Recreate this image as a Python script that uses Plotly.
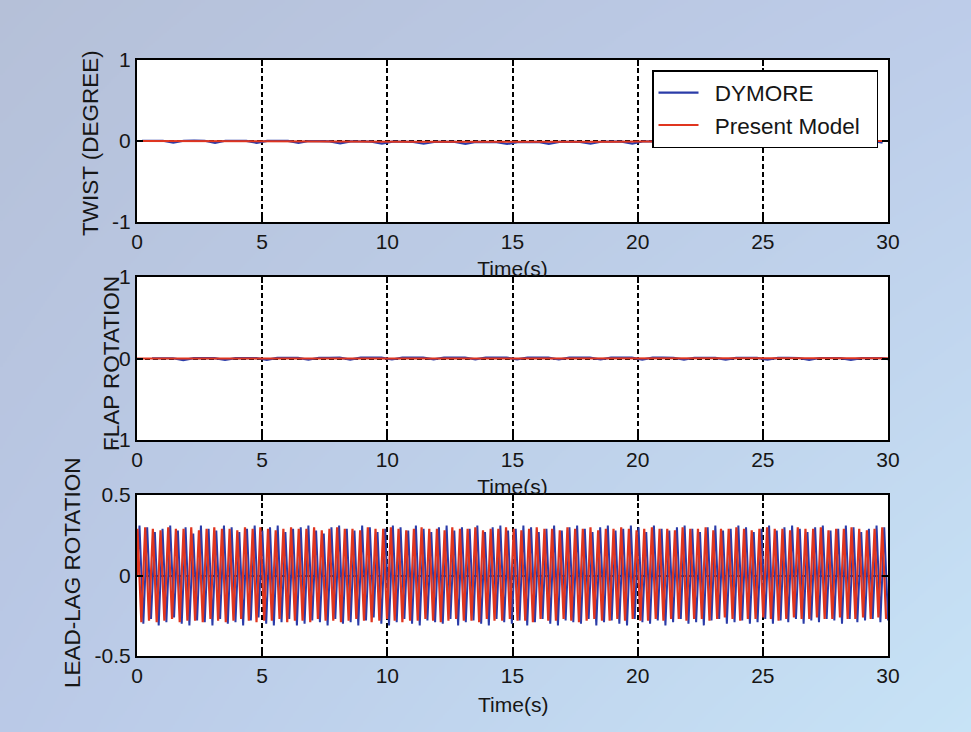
import struct
import zlib
import base64

import numpy as np
import plotly.graph_objects as go

# ---------------------------------------------------------------- data
# Twist response (degree), Present Model sampled every second
twist_red_t = list(range(31))
twist_red = [0.000, 0.000, 0.001, 0.000, 0.000, -0.001, 0.000, 0.000, -0.002, -0.004,
             -0.006, -0.008, -0.010, -0.011, -0.012, -0.013, -0.013, -0.012, -0.011, -0.009,
             -0.007, -0.005, -0.004, -0.003, -0.002, -0.002, -0.001, -0.001, 0.000, 0.000,
             0.000]

# Twist response, DYMORE (sampled every 5/12 s from t = 0.2 s)
twist_blue_t0, twist_blue_dt = 0.2, 5.0 / 12.0
twist_blue = [0.003, 0.004, 0.003, -0.021, 0.003, 0.004, 0.003, -0.022,
              0.003, 0.003, 0.002, -0.022, 0.002, 0.002, 0.001, -0.023,
              0.000, -0.002, -0.004, -0.028, -0.005, -0.006, -0.007, -0.031,
              -0.008, -0.009, -0.010, -0.034, -0.010, -0.011, -0.012, -0.036,
              -0.012, -0.013, -0.013, -0.037, -0.013, -0.013, -0.012, -0.036,
              -0.012, -0.011, -0.010, -0.034, -0.009, -0.008, -0.007, -0.031,
              -0.006, -0.005, -0.004, -0.028, -0.003, -0.003, -0.002, -0.026,
              -0.002, -0.001, -0.001, -0.025, 0.000, 0.000, 0.001, -0.023,
              0.001, 0.001, 0.002, -0.022, 0.002, 0.002, 0.002, -0.022]

# Flap rotation, Present Model sampled every second
flap_red_t = list(range(31))
flap_red = [0.000, 0.000, 0.000, 0.001, 0.001, 0.002, 0.002, 0.003, 0.004, 0.005,
            0.006, 0.007, 0.008, 0.008, 0.009, 0.009, 0.009, 0.009, 0.008, 0.008,
            0.008, 0.007, 0.007, 0.006, 0.006, 0.005, 0.004, 0.004, 0.003, 0.003,
            0.002]

# Flap rotation, DYMORE (sampled every 5/12 s from t = 0.6 s)
flap_blue_t0, flap_blue_dt = 0.6, 5.0 / 12.0
flap_blue = [0.003, 0.004, 0.003, -0.019, 0.004, 0.004, 0.004, -0.018,
             0.005, 0.005, 0.006, -0.017, 0.007, 0.007, 0.008, -0.015,
             0.009, 0.009, 0.010, -0.013, 0.010, 0.011, 0.011, -0.012,
             0.011, 0.012, 0.012, -0.011, 0.012, 0.012, 0.012, -0.011,
             0.012, 0.012, 0.012, -0.011, 0.012, 0.011, 0.011, -0.012,
             0.011, 0.011, 0.011, -0.012, 0.011, 0.010, 0.010, -0.013,
             0.010, 0.010, 0.009, -0.014, 0.009, 0.009, 0.008, -0.014,
             0.008, 0.008, 0.007, -0.015, 0.007, 0.007, 0.006, -0.016,
             0.006, 0.006, 0.005, -0.017, 0.005, 0.005, 0.005, -0.018]

# Lead-lag rotation: successive maxima / minima of each cycle
leadlag_period = 0.3067
red_t0, blue_t0 = 0.02, 0.10
red_hi = [0.29, 0.30, 0.29, 0.28, 0.30, 0.29, 0.29, 0.30, 0.28, 0.29,
          0.30, 0.29, 0.29, 0.28, 0.30, 0.29, 0.30, 0.29, 0.28, 0.29,
          0.30, 0.29, 0.29, 0.30, 0.28, 0.29, 0.30, 0.29, 0.29, 0.28,
          0.30, 0.29, 0.29, 0.30, 0.29, 0.28, 0.29, 0.30, 0.29, 0.29,
          0.28, 0.30, 0.29, 0.29, 0.30, 0.28, 0.29, 0.29, 0.30, 0.29,
          0.28, 0.29, 0.30, 0.29, 0.29, 0.28, 0.30, 0.29, 0.29, 0.30,
          0.28, 0.29, 0.29, 0.30, 0.29, 0.28, 0.29, 0.30, 0.29, 0.29,
          0.28, 0.30, 0.29, 0.29, 0.30, 0.28, 0.29, 0.29, 0.30, 0.29,
          0.28, 0.29, 0.30, 0.29, 0.29, 0.28, 0.30, 0.29, 0.29, 0.30,
          0.28, 0.29, 0.29, 0.30, 0.29, 0.28, 0.29, 0.30]
red_lo = [-0.29, -0.28, -0.29, -0.28, -0.27, -0.29, -0.28, -0.28, -0.29, -0.27,
          -0.28, -0.29, -0.28, -0.27, -0.28, -0.29, -0.28, -0.28, -0.27, -0.29,
          -0.28, -0.28, -0.29, -0.27, -0.28, -0.28, -0.29, -0.28, -0.27, -0.28,
          -0.29, -0.28, -0.27, -0.28, -0.29, -0.28, -0.28, -0.27, -0.28, -0.29,
          -0.28, -0.27, -0.28, -0.28, -0.29, -0.27, -0.28, -0.28, -0.27, -0.28,
          -0.28, -0.29, -0.27, -0.28, -0.28, -0.27, -0.28, -0.29, -0.28, -0.27,
          -0.28, -0.28, -0.27, -0.28, -0.27, -0.28, -0.28, -0.27, -0.28, -0.27,
          -0.27, -0.28, -0.27, -0.27, -0.28, -0.27, -0.26, -0.27, -0.28, -0.27,
          -0.27, -0.26, -0.27, -0.28, -0.27, -0.26, -0.27, -0.27, -0.26, -0.27,
          -0.27, -0.26, -0.27, -0.27, -0.26, -0.27, -0.26, -0.27]
blue_hi = [0.31, 0.30, 0.27, 0.29, 0.31, 0.28, 0.30, 0.26, 0.31, 0.29,
           0.28, 0.31, 0.30, 0.27, 0.29, 0.31, 0.28, 0.30, 0.31, 0.27,
           0.29, 0.30, 0.31, 0.28, 0.26, 0.30, 0.31, 0.29, 0.28, 0.31,
           0.30, 0.27, 0.29, 0.31, 0.30, 0.28, 0.31, 0.29, 0.27, 0.30,
           0.31, 0.28, 0.30, 0.29, 0.31, 0.27, 0.30, 0.31, 0.28, 0.29,
           0.31, 0.30, 0.27, 0.29, 0.31, 0.28, 0.30, 0.31, 0.29, 0.27,
           0.30, 0.31, 0.28, 0.29, 0.31, 0.30, 0.27, 0.31, 0.29, 0.28,
           0.30, 0.31, 0.29, 0.27, 0.30, 0.31, 0.28, 0.29, 0.31, 0.30,
           0.27, 0.29, 0.31, 0.28, 0.30, 0.31, 0.29, 0.27, 0.30, 0.31,
           0.28, 0.29, 0.31, 0.30, 0.27, 0.29, 0.31, 0.30]
blue_lo = [-0.30, -0.27, -0.31, -0.29, -0.26, -0.30, -0.31, -0.28, -0.29, -0.31,
           -0.27, -0.30, -0.29, -0.31, -0.28, -0.26, -0.30, -0.31, -0.29, -0.27,
           -0.31, -0.30, -0.28, -0.29, -0.31, -0.27, -0.30, -0.29, -0.31, -0.28,
           -0.26, -0.30, -0.31, -0.29, -0.27, -0.30, -0.31, -0.28, -0.29, -0.30,
           -0.27, -0.31, -0.29, -0.28, -0.30, -0.31, -0.27, -0.29, -0.30, -0.28,
           -0.31, -0.29, -0.27, -0.30, -0.31, -0.28, -0.29, -0.30, -0.27, -0.31,
           -0.29, -0.28, -0.30, -0.31, -0.27, -0.29, -0.30, -0.28, -0.31, -0.29,
           -0.27, -0.30, -0.29, -0.31, -0.28, -0.27, -0.30, -0.29, -0.28, -0.30,
           -0.29, -0.27, -0.30, -0.28, -0.29, -0.27, -0.30, -0.28, -0.29, -0.27,
           -0.28, -0.30, -0.27, -0.29, -0.28, -0.27, -0.29, -0.28]

x_ticks = [0, 5, 10, 15, 20, 25, 30]
y_ticks_unit = [-1, 0, 1]
y_ticktext_unit = ["-1", "0", "1"]
y_ticks_half = [-0.5, 0, 0.5]
y_ticktext_half = ["-0.5", "0", "0.5"]

series_names = ["DYMORE", "Present Model"]
y_titles = ["TWIST (DEGREE)", "FLAP ROTATION", "LEAD-LAG ROTATION"]
x_title = "Time(s)"

BLUE = "#2b3ca8"
RED = "#e0351f"
FONT = "Liberation Sans, Arial, sans-serif"
TXT = "#161616"


# ---------------------------------------------------------------- helpers
def sampled(t0, dt, values):
    t = t0 + dt * np.arange(len(values))
    return t, np.asarray(values)


def extrema_path(t0, period, hi, lo):
    t, v = [0.0], [0.0]
    for k, (a, b) in enumerate(zip(hi, lo)):
        t += [t0 + k * period, t0 + (k + 0.5) * period]
        v += [a, b]
    return np.array(t), np.array(v)


def gradient_png(w=486, h=366):
    tl = np.array([181, 192, 216.0])
    tr = np.array([189, 204, 233.0])
    bl = np.array([186, 201, 231.0])
    br = np.array([199, 227, 246.0])
    u = np.linspace(0, 1, w)[None, :, None]
    v = np.linspace(0, 1, h)[:, None, None]
    img = (tl * (1 - u) * (1 - v) + tr * u * (1 - v) + bl * (1 - u) * v + br * u * v)
    img = np.clip(np.round(img), 0, 255).astype(np.uint8)
    raw = b"".join(b"\x00" + row.tobytes() for row in img)

    def chunk(tag, data):
        c = struct.pack(">I", len(data)) + tag + data
        return c + struct.pack(">I", zlib.crc32(tag + data) & 0xFFFFFFFF)

    png = b"\x89PNG\r\n\x1a\n"
    png += chunk(b"IHDR", struct.pack(">IIBBBBB", w, h, 8, 2, 0, 0, 0))
    png += chunk(b"IDAT", zlib.compress(raw, 9))
    png += chunk(b"IEND", b"")
    return "data:image/png;base64," + base64.b64encode(png).decode()


# ---------------------------------------------------------------- geometry
W, H = 971, 732
X0, X1 = 137, 888
boxes = [(60, 222), (277, 440), (495, 656)]  # (top, bottom) in pixels


def py(p):
    return 1 - p / H


xdom = [X0 / W, X1 / W]


def legend_label(name):
    return "\u2002" + name + "\u2002"


fig = go.Figure()

# ---------------------------------------------------------------- traces
t, v = sampled(twist_blue_t0, twist_blue_dt, twist_blue)
fig.add_trace(go.Scatter(x=t, y=v, mode="lines", name=legend_label(series_names[0]),
                         line=dict(color=BLUE, width=2.2), xaxis="x", yaxis="y"))
fig.add_trace(go.Scatter(x=twist_red_t, y=twist_red, mode="lines",
                         name=legend_label(series_names[1]),
                         line=dict(color=RED, width=2), xaxis="x", yaxis="y"))

t, v = sampled(flap_blue_t0, flap_blue_dt, flap_blue)
fig.add_trace(go.Scatter(x=t, y=v, mode="lines", showlegend=False,
                         line=dict(color=BLUE, width=2.2), xaxis="x2", yaxis="y2"))
fig.add_trace(go.Scatter(x=flap_red_t, y=flap_red, mode="lines", showlegend=False,
                         line=dict(color=RED, width=2), xaxis="x2", yaxis="y2"))

t, v = extrema_path(blue_t0, leadlag_period, blue_hi, blue_lo)
fig.add_trace(go.Scatter(x=t, y=v, mode="lines", showlegend=False,
                         line=dict(color=BLUE, width=2), xaxis="x3", yaxis="y3"))
t, v = extrema_path(red_t0, leadlag_period, red_hi, red_lo)
fig.add_trace(go.Scatter(x=t, y=v, mode="lines", showlegend=False,
                         line=dict(color=RED, width=2.2), xaxis="x3", yaxis="y3"))

# x-axis titles of the upper panels, clipped by the panel below them
for xa, ya in (("x4", "y4"), ("x5", "y5")):
    fig.add_trace(go.Scatter(x=[15], y=[0.11], mode="text", text=[x_title],
                             textposition="middle center", cliponaxis=True,
                             textfont=dict(family=FONT, size=21, color=TXT),
                             showlegend=False, hoverinfo="skip",
                             xaxis=xa, yaxis=ya))

# ---------------------------------------------------------------- axes
axis_common = dict(
    showline=True, linecolor="black", linewidth=2, mirror="ticks",
    ticks="inside", ticklen=6, tickwidth=1.5, tickcolor="black",
    showgrid=True, gridcolor="black", gridwidth=1.6, griddash="5px,3px",
    zeroline=False, tickfont=dict(family=FONT, size=21, color=TXT),
    fixedrange=True, automargin=False,
)

layout_axes = {}
for i, (top, bot) in enumerate(boxes, start=1):
    sx = "" if i == 1 else str(i)
    layout_axes["xaxis" + sx] = dict(
        axis_common, domain=xdom, range=[0, 30], tickvals=x_ticks,
        anchor="y" + sx,
    )
    if i < 3:
        yax = dict(axis_common, range=[-1, 1], tickvals=y_ticks_unit,
                   ticktext=y_ticktext_unit)
    else:
        yax = dict(axis_common, range=[-0.5, 0.5], tickvals=y_ticks_half,
                   ticktext=y_ticktext_half)
    yax.update(domain=[py(bot), py(top)], anchor="x" + sx)
    layout_axes["yaxis" + sx] = yax

hidden = dict(visible=False, fixedrange=True, automargin=False)
layout_axes["xaxis4"] = dict(hidden, domain=xdom, range=[0, 30], anchor="y4")
layout_axes["yaxis4"] = dict(hidden, domain=[py(boxes[1][0]), py(boxes[0][1])],
                             range=[0, 1], anchor="x4")
layout_axes["xaxis5"] = dict(hidden, domain=xdom, range=[0, 30], anchor="y5")
layout_axes["yaxis5"] = dict(hidden, domain=[py(boxes[2][0]), py(boxes[1][1])],
                             range=[0, 1], anchor="x5")

# white plotting areas
shapes = [dict(type="rect", xref="paper", yref="paper", layer="below",
               x0=xdom[0], x1=xdom[1], y0=py(bot), y1=py(top),
               fillcolor="white", line=dict(width=0))
          for top, bot in boxes]

# y-axis titles and the bottom x-axis title
ytitle_pos = [(91, 143), (111, 364), (72, 573)]
annotations = [dict(text=txt, x=xp / W, y=py(yp), xref="paper", yref="paper",
                    textangle=-90, showarrow=False, xanchor="center", yanchor="middle",
                    font=dict(family=FONT, size=22.5, color=TXT))
               for txt, (xp, yp) in zip(y_titles, ytitle_pos)]
annotations.append(dict(text=x_title, x=(X0 + X1) / 2 / W, y=py(704), xref="paper",
                        yref="paper", showarrow=False, xanchor="center", yanchor="middle",
                        font=dict(family=FONT, size=21, color=TXT)))

fig.update_layout(
    width=W, height=H, margin=dict(l=0, r=0, t=0, b=0, autoexpand=False),
    paper_bgcolor="#bfcde6", plot_bgcolor="rgba(0,0,0,0)",
    showlegend=True,
    legend=dict(x=878 / W, y=py(70), xanchor="right", yanchor="top",
                bgcolor="white", bordercolor="black", borderwidth=1.5,
                font=dict(family=FONT, size=22.5, color=TXT),
                tracegroupgap=0, itemwidth=40),
    shapes=shapes, annotations=annotations,
    images=[dict(source=gradient_png(), xref="paper", yref="paper", x=0, y=1,
                 sizex=1, sizey=1, sizing="stretch", layer="below",
                 xanchor="left", yanchor="top")],
    **layout_axes,
)

fig.write_html("out.html")
